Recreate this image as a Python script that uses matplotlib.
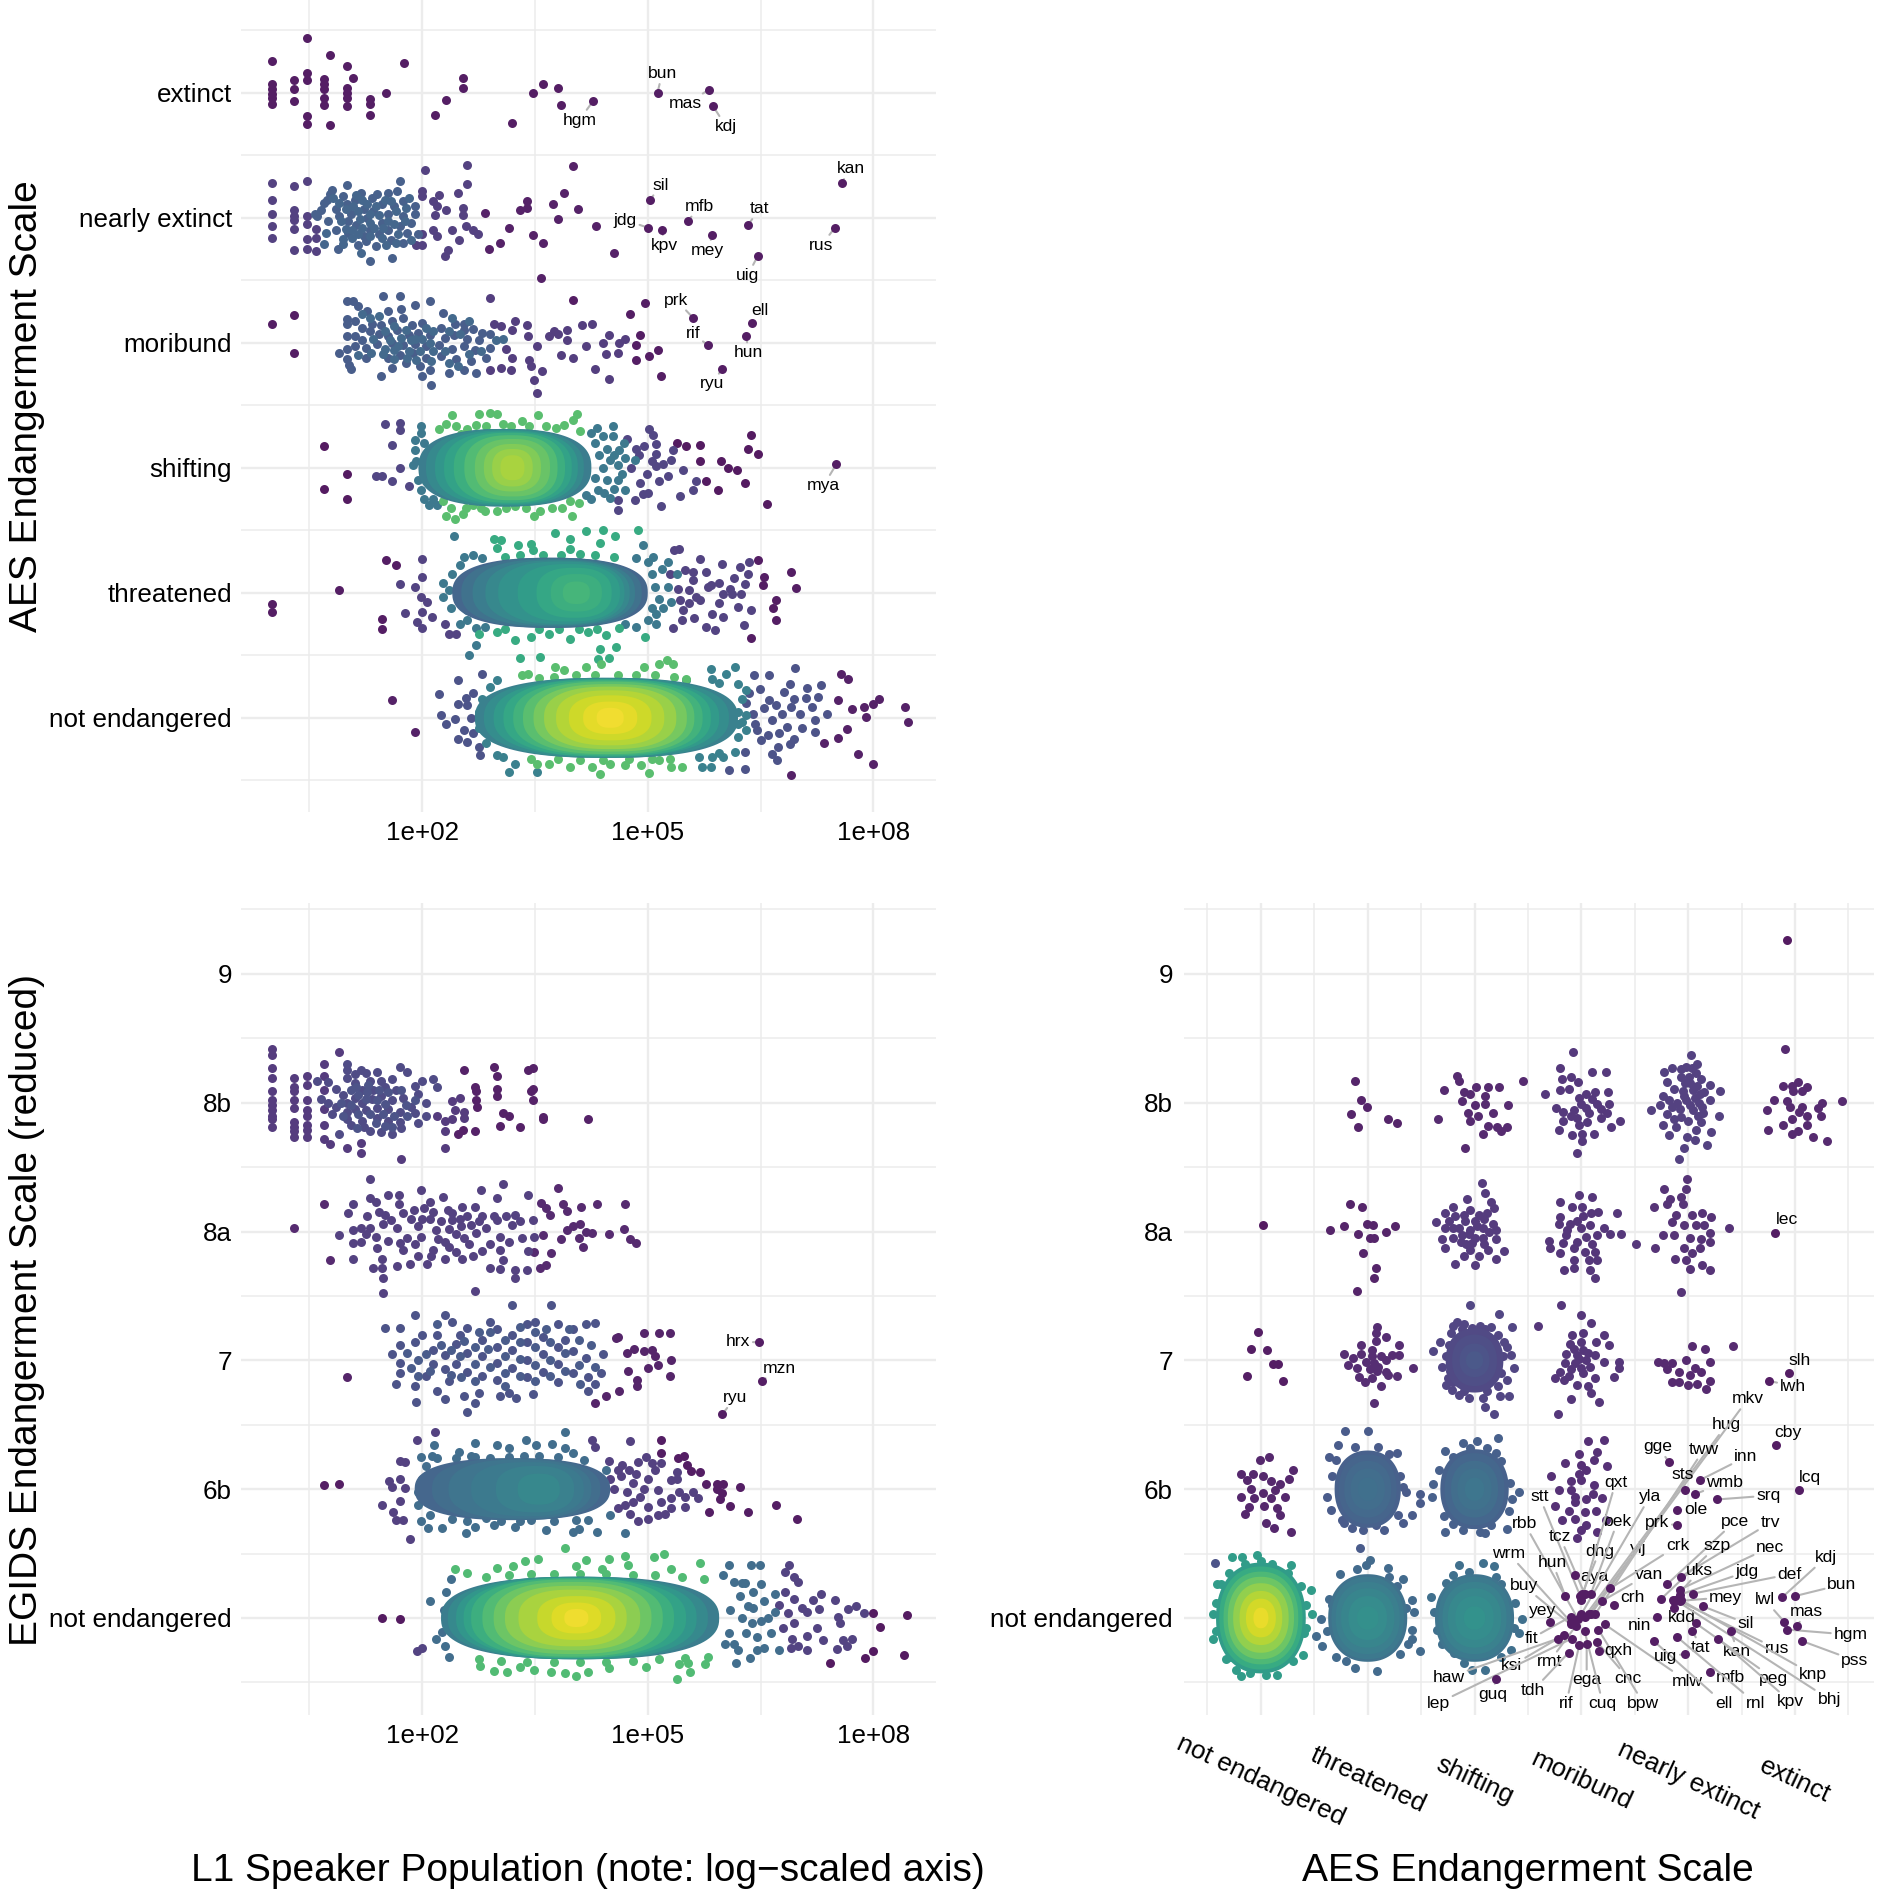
import numpy as np
import matplotlib
matplotlib.use("Agg")
import matplotlib.pyplot as plt
from matplotlib.patches import Polygon

plt.rcParams["font.family"] = ["Liberation Sans", "DejaVu Sans"]

AES = ["not endangered", "threatened", "shifting", "moribund", "nearly extinct", "extinct"]
EGIDS = ["not endangered", "6b", "7", "8a", "8b", "9"]
POP_TICKS = [2, 5, 8]
POP_LABELS = ["1e+02", "1e+05", "1e+08"]

# points are flat lists: log10 population (or column offset), row offset
# rings are hand read density contours of the clouds: level, centre, half width, half height

# ---- AES by population
ext_dark = [.47,.44, .77,.30, 0,.25, 1,.21, 1.76,.24, .47,.16, .3,.10, .47,.10, .69,.11, .69,.07, 1.08,.12, 2.54,.12, 0,.07, 0,.03, 0,-.01, 0,-.04, 0,-.09, .3,.03, .69,.03, 1,.04, 1,0, 1,-.04, .69,-.04, 1.3,-.05, 1.31,-.09, 1.52,0, .3,-.07, .69,-.10, 1,-.11, 1.3,-.18, .47,-.19, .47,-.25, .77,-.26, 2.54,.04, 2.32,-.06, 2.17,-.18, 3.2,-.24, 3.48,0, 3.6,.07, 3.81,.04, 3.84,-.10]
near_dark = [4.55,-.28, 4.31,-.07, 4,.41, 4.07,.07, 3.89,.20, 3.74,.11, 3.81,-.01, 3.58,-.48, 3.61,-.2, 3.47,-.14, 3.4,.13, 3.39,.08, 3.3,.06, 3.16,-.08, 3.04,-.2, 2.89,-.25, 2.84,.04]
near_mid = [0,.28, 0,.14, 0,.03, 0,-.07, 0,-.16, .3,.25, .3,.06, .3,.01, .3,-.02, .3,-.09, .3,-.26, .47,.29, .47,.01, .47,-.05, .47,-.17, .47,-.25, .59,-.09, .59,-.16, .59,-.27, 2.59,.42, 2.6,.27, 2.48,.2, 2.54,.08, 2.54,.02, 2.39,-.10, 2.58,-.07, 2.68,-.1, 2.74,-.13, 2.49,-.18, 2.34,-.26, 2.3,-.31, 2.23,.18, 2.04,.38, 2,.21, 2,.17, 2.15,.13, 2.2,.09, 2.31,.06, 2.17,.02, 2.15,-.1, 2.2,-.15, 2,-.22, 1.92,-.22, 2,-.13]
near_core = [.8,.22, .73,.14, .65,.06, .6,.01, .85,-.1, 1,.26, 1,.11, 1.05,.03, 1.01,-.03, 1.01,-.12, 1.14,-.22, .88,-.25, 1.18,.2, 1.22,.07, 1.26,0, 1.3,-.1, 1.38,-.23, 1.3,-.35, 1.6,-.32, 1.4,.19, 1.54,.2, 1.7,.29, 1.66,.21, 1.46,.11, 1.62,.09, 1.74,.13, 1.9,.09, 1.54,.03, 1.74,.01, 1.46,-.04, 1.7,-.07, 1.42,-.13, 1.58,-.18, 1.74,-.2, 1.95,-.13, 1.22,-.15, 1.9,.03, 1.54,-.1, .57,.03, .85,.07, .89,.01, .75,-.03, .7,.12, .95,.17, 1.1,.14, 1.12,-.06, 1.33,.16, 1.85,-.04, 1.8,-.12, 1.35,.05, .78,.19, 1.25,-.19]
near_extra = [.82,.16, .9,.12, .98,.07, 1.08,.09, 1.15,.05, 1.12,.18, 1.2,.14, 1.27,.11, 1.3,.03, 1.38,.09, 1.42,.02, 1.5,.14, 1.58,.13, 1.65,.05, 1.78,.08, 1.83,.16, .92,-.03, .98,-.09, 1.07,-.1, 1.17,-.01, 1.2,-.08, 1.3,-.04, 1.36,-.08, 1.48,-.08, 1.55,-.03, 1.62,-.05, 1.68,-.13, 1.77,-.03, .95,-.17, 1.07,-.16, 1.15,-.13, 1.3,-.15, 1.46,-.16, 1.52,-.22, 1.65,-.2, 1.85,-.18, .72,-.12, .7,-.21, .95,-.21, 1.18,-.28]
mori_dark = [4.96,.32, 4.76,.23, 4,.34, 0,.15, .3,.22, .3,-.08, 5.18,-.27, 5.13,-.06, 5.02,-.11, 4.9,.06, 4.84,-.02, 4.84,-.14]
mori_mid = [4.7,.03, 4.62,0, 4.48,.06, 4.4,0, 4.48,-.29, 4.3,-.21, 4.44,-.09, 4.6,-.08, 4.26,.15, 4.12,.14, 4.18,-.03, 4,-.12, 3.84,-.1, 3.93,.02, 3.93,.1, 3.81,.07, 3.69,.05, 3.75,.09, 3.53,-.4, 3.49,-.3, 3.59,-.23, 3.45,-.19, 3.42,-.14, 3.53,-.03, 3.41,.05, 3.39,.14, 3.24,.17, 2.9,.36, 3.2,.1, 3.12,-.05, 3.2,-.12, 3.05,.13, 3.05,-.2, 3.18,-.22, 2.9,-.22, 2.95,.15]
mori_core = [1,.33, 1.08,.33, 1.15,.29, 1.27,.25, 1.48,.37, 1.7,.37, 1.55,.25, 1.72,.27, 1.9,.3, 2.1,.33, 2.55,.15, 2.27,.24, 1,.19, 1,.15, 1.1,.17, 1.2,.12, 1.33,.15, 1.45,.14, 1.6,.17, 1.75,.2, 1.87,.14, 2,.16, 2.25,.12, 2.43,.15, 2.55,.1, 2.68,.11, 2.8,.08, 1,.05, 1.1,.05, 1.2,.02, 1.3,.09, 1.42,.07, 1.55,.05, 1.67,.1, 1.82,.06, 1.95,.08, 2.1,.06, 2.3,.04, 2.42,.06, 2.6,.03, 2.75,.02, 2.9,.07, .9,-.08, 1,-.05, 1.1,-.03, 1.25,-.04, 1.4,-.01, 1.6,0, 1.75,-.02, 1.9,-.01, 2.05,-.03, 2.22,-.02, 2.4,-.05, 2.55,-.03, 2.7,-.06, 2.9,-.04, 1,-.13, 1.02,-.18, 1.05,-.21, 1.25,-.12, 1.55,-.12, 1.7,-.1, 1.88,-.08, 2.05,-.12, 2.25,-.11, 2.45,-.13, 2.65,-.15, 2.85,-.12, 1.45,-.27, 1.6,-.2, 1.78,-.16, 1.97,-.19, 2.1,-.22, 2.35,-.24, 2.55,-.22, 2,-.27, 2.12,-.34, 2.72,-.24]
mori_extra = [1.3,.2, 1.42,.21, 1.5,.09, 1.63,.13, 1.78,.1, 1.9,.03, 1.5,-.05, 1.62,-.06, 1.72,.04, 1.82,-.07, 1.97,-.07, 1.57,.02, 1.68,-.03, 1.85,.02, 2,.03, 2.1,.0, 2.15,.09, 2.35,.09, 2.5,.07, 2.3,-.07, 2.15,-.07, 1.35,.03, 1.15,-.1, 1.32,-.08, 1.48,-.09, 1.62,-.13, 1.8,-.12, 1.92,-.14, 2.12,-.15, 2.35,-.16, 2.48,-.19, 2.62,-.09, 2.78,-.07, 2.98,.02, 3.08,.03, 1.2,.23, 2.05,.12, 2.62,.17, 2.4,.2]
shift_dark = [.69,.17, .69,-.17, 1,-.05, 1,-.25, 6.37,.26, 6.33,.15, 6.47,.11, 6.19,-.02, 6.29,-.12, 6.59,-.29, 5.93,-.18, 6.07,0, 5.98,.05, 5.78,-.11, 5.7,.05, 5.7,.18, 5.51,.17, 5.39,.2]
shift_blue = [1.38,-.07, 1.46,-.07, 1.5,.35, 1.7,.36, 1.7,.3, 1.6,.18, 1.6,-.11, 1.7,0, 1.82,-.15, 5.64,-.11, 5.6,-.18, 5.43,-.23, 5.17,-.31, 5.47,-.02, 5.31,.06, 5.34,.14, 5.07,.26, 5.11,.19, 5.11,.11, 4.95,.17, 5.11,.01, 4.99,-.05, 5.15,-.11, 4.93,-.21, 5.27,-.07, 4.83,-.26, 4.6,-.26, 4.6,-.34, 4.78,0, 4.72,.23, 5.02,.31, 4.88,.1, 4.9,-.12, 5,-.2, 5.2,.03, 5.05,.05, 4.85,.15]
shift_teal = [4.54,.33, 4.33,.32, 4.46,.15, 4.62,.14, 4.5,.06, 4.66,-.05, 4.46,-.1, 4.7,-.18, 4.34,-.18, 4.18,-.22, 4.54,.25, 4.83,.06, 1.99,.33, 1.91,.22, 1.91,.14, 2.03,-.07, 1.99,-.18, 2.09,-.3, 2.15,-.25, 1.92,.05, 1.88,.02, 4.6,.02, 4.7,.08, 4.55,-.17, 4.3,.2, 4.35,.1, 4.4,.0, 4.3,-.08, 4.42,-.2, 4.25,.28, 4.25,-.25, 4.55,.1, 4.6,-.1, 4.5,-.24, 4.68,.2, 4.4,.25, 1.98,.28, 2.02,.2, 1.95,-.1, 2.02,-.25, 2.2,-.3]
shift_green = [2.39,.42, 2.76,.43, 2.9,.44, 3,.43, 3.33,.37, 3.54,.42, 4.06,.43, 4.01,.38, 2.31,.35, 2.6,.31, 3.08,.35, 3.65,.33, 2.51,.27, 4.1,.29, 2.31,-.39, 2.43,-.41, 2.54,-.37, 2.84,-.35, 3,-.35, 3.49,-.39, 3.57,-.35, 3.99,-.39, 2.27,-.27, 2.68,-.3, 3.24,-.31, 3.97,-.27, 2.45,.33, 2.72,.34, 2.85,.33, 3.18,.33, 3.42,.33, 3.78,.32, 3.88,.34, 2.22,.31, 2.38,-.32, 2.58,-.32, 2.78,-.32, 3.12,-.32, 3.38,-.32, 3.72,-.32, 3.86,-.32, 4.08,-.28]
shift_rings = [[.40, .46, .52, .58, .64, .70, .75, .80, .84, .87], [3.1, 3.1, 3.12, 3.14, 3.16, 3.18, 3.2, 3.2, 3.2, 3.2], [1.15, 1.05, .95, .85, .74, .62, .5, .38, .27, .16], [.31, .31, .3, .29, .28, .26, .23, .19, .15, .1]]
thr_dark = [0,-.09, 0,-.15, .9,.02, 1.52,.26, 1.65,.22, 1.46,-.21, 1.46,-.29, 6.97,.04, 6.91,.17, 6.7,-.06, 6.67,-.12, 6.7,-.22, 6.37,-.36, 6.54,.13, 6.53,.06, 6.46,.26]
thr_blue = [2,.27, 2,.13, 1.7,.07, 1.91,.05, 1.99,-.03, 2.07,-.07, 2,-.15, 1.77,-.16, 1.93,-.23, 2,-.28, 2.13,-.19, 2.3,-.25, 2.35,-.33, 2.45,-.33, 6.34,.25, 6.23,.21, 5.99,.23, 5.69,.27, 6.33,.15, 6.29,.07, 6.24,-.01, 6.12,-.01, 6,-.01, 6.37,-.14, 6.2,-.11, 6,-.19, 6.28,-.26, 5.9,-.3, 5.77,-.27, 5.86,-.17, 5.8,.05, 5.84,.06, 5.6,.1, 5.64,-.03, 5.43,-.06, 5.47,-.14, 5.33,-.28, 5.42,.35, 5.35,.34, 5.55,.02, 5.7,-.06, 5.95,.08, 6.1,.03, 5.5,.18, 5.62,-.2, 5.4,.03, 5.55,-.08, 5.3,.15, 5.6,.17, 5.45,-.22, 5.78,.17, 5.95,-.08, 6.15,.12]
thr_teal = [2.62,-.5, 2.72,-.42, 2.42,.45, 2.27,.08, 2.27,-.03, 2.55,.29, 2.68,.3, 5.27,.25, 5.07,.29, 4.93,.38, 5.19,.19, 5.39,.15, 5.27,.05, 5.31,-.07, 5.11,-.17, 5.11,-.25, 4.7,-.25, 2.6,-.22, 2.6,-.14, 2.84,-.27, 5.05,.15, 5.1,.05, 5.15,-.05, 5.05,-.12, 5.2,-.12, 5.0,.25, 5.0,-.22, 2.4,.15, 2.35,.02, 2.38,-.12, 2.5,.22, 2.5,-.25, 2.72,-.28, 2.8,.28, 4.85,.28, 4.85,-.27]
thr_green = [2.96,.43, 3.05,.42, 3,.36, 3.27,.38, 3.45,.39, 3.77,.48, 4.18,.49, 4.4,.5, 4.56,.45, 4.36,.4, 4.87,.5, 3.97,.43, 3.97,.35, 3.47,.34, 2.76,-.33, 3,-.31, 3.24,-.38, 3.45,-.35, 3.69,-.33, 3.96,-.37, 4.2,-.31, 4.44,-.34, 4.96,-.35, 4.36,-.45, 4.58,-.43, 4.48,-.52, 4.34,-.53, 3.57,-.51, 3.3,-.52, 3.1,.29, 3.3,.3, 3.6,.3, 3.85,.3, 4.1,.31, 4.3,.3, 4.55,.29, 3.1,-.29, 3.55,-.29, 3.82,-.29, 4.08,-.29, 4.32,-.29, 4.62,-.28]
thr_rings = [[.3, .35, .4, .45, .5, .55, .6, .64, .67], [3.7, 3.72, 3.75, 3.8, 3.85, 3.95, 4.02, 4.05, 4.05], [1.3, 1.2, 1.08, .96, .84, .68, .5, .34, .18], [.28, .28, .27, .26, .25, .23, .2, .15, .09]]
aes_ne_dark = [1.6,.14, 1.9,-.11, 8.42,.09, 8.46,-.03, 8.08,.15, 8,.11, 8,-.37, 7.79,-.29, 6.91,-.46, 7.88,.09, 7.9,.01, 7.72,.07, 7.53,.14, 7.66,.31, 7.57,.35, 7.65,-.09, 7.53,-.16, 7.34,-.2]
aes_ne_blue = [6.96,.4, 7.3,.26, 7.12,.24, 6.89,.27, 6.81,.21, 7.26,.17, 7.18,.09, 7.38,.03, 7.22,-.02, 7.02,.03, 7.22,-.11, 6.89,-.21, 6.73,-.23, 6.65,-.29, 6.72,-.34, 6.85,-.07, 6.65,-.02, 6.61,.14, 6.41,.34, 6.61,.34, 6.49,.23, 6.45,-.1, 6.29,-.27, 6.29,-.41, 6.08,-.42, 2.23,.19, 2.25,.02, 2.31,-.05, 2.43,-.01, 2.47,.3, 2.58,.16, 2.47,.11, 2.6,.1, 2.47,-.17, 2.6,-.19, 2.8,.35, 2.77,-.3, 2.76,-.23, 2.55,-.1, 6.55,.08, 6.7,.1, 6.4,.03, 6.5,-.18, 6.3,.12, 6.75,-.12, 6.95,.15, 6.78,.03, 6.9,.09, 7.05,-.08, 6.6,-.14, 6.42,-.05, 6.35,.2, 6.95,-.17, 7.1,.16, 2.65,.0, 2.68,.2, 2.68,-.12]
aes_ne_teal = [6.16,.41, 5.84,.39, 6.04,.35, 5.51,.3, 6.2,.27, 5.84,-.39, 5.72,-.39, 6,-.31, 6.16,-.27, 5.68,-.31, 3.15,-.43, 3.53,-.43, 3.24,-.37, 3.08,-.31, 6.25,.15, 6.3,-.1, 6.2,-.15, 6.2,.05, 6.3,.02, 6.25,-.03, 6.3,.22, 5.95,.28, 5.85,.31, 6.2,-.05, 5.95,-.28, 5.85,-.31, 2.9,.25, 2.8,.15, 2.75,.05, 2.75,-.08, 2.85,-.2, 3,.3, 3,-.3]
aes_ne_green = [3.33,.34, 3.41,.35, 3.77,.41, 3.89,.38, 4.18,.41, 4.38,.43, 4.95,.41, 5.15,.43, 5.25,.46, 5.34,.43, 5.51,.31, 4.26,-.39, 4.36,-.45, 4.5,-.37, 4.7,-.38, 4.91,-.38, 5.01,-.44, 5.15,-.34, 5.31,-.39, 5.45,-.39, 3.96,-.39, 3.69,-.37, 3.53,-.37, 3.55,.32, 3.75,.33, 4.05,.34, 4.3,.34, 4.6,.34, 4.85,.34, 5.1,.34, 5.35,.33, 3.45,-.33, 3.8,-.33, 4.1,-.34, 4.4,-.34, 4.75,-.33, 5.05,-.33, 5.3,-.33]
aes_ne_rings = [[.42, .48, .54, .6, .66, .72, .78, .84, .89, .93, .97, .995], [4.45, 4.45, 4.45, 4.46, 4.47, 4.48, 4.5, 4.5, 4.5, 4.5, 4.5, 4.5], [1.75, 1.63, 1.5, 1.38, 1.26, 1.14, 1.02, .88, .72, .55, .36, .18], [.32, .32, .31, .31, .3, .29, .27, .25, .22, .18, .13, .08]]

# ---- EGIDS by population
b8_dark = [4.2,-.13, 3.6,-.11, 3.47,.02, 3.47,.11, 3.47,.27, 3.41,.25, 3.45,.09, 2.96,.28, 3,.21, 3,.11, 3,.05, 2.56,.25, 2.7,.12, 2.72,.09, 2.72,.02, 2.73,-.03, 3.08,-.08, 3.16,-.1, 3.04,-.18, 3.3,-.19, 2.7,-.22, 2.54,-.21, 2.47,-.24, 3.6,-.13]
b8_mid = [0,.42, 0,.37, 0,.27, 0,.19, 0,.09, 0,.02, 0,-.02, 0,-.06, 0,-.1, 0,-.13, 0,-.19, .3,.19, .3,.12, .3,.09, .3,.02, .3,-.04, .3,-.15, .3,-.19, .3,-.22, .3,-.27, .47,.21, .47,.14, .47,.02, .47,-.06, .47,-.1, .47,-.17, .47,-.21, .47,-.27, .69,.3, .9,.39, .69,.21, .69,.1, .69,-.05, .69,-.17, .69,-.28, .77,-.32, 1,-.35, 1.18,-.31, 1.18,-.39, 1.72,-.44, 2.3,-.35, 2.3,-.22, 2.4,-.13, 2.3,-.14, 2.43,-.06, 2.55,-.12, 2.55,-.07, 2.5,.04, 2.4,.01, 2.2,-.1]
b8_core = [1,.3, 1,.25, 1.1,.22, 1.18,.25, 1.25,.23, 1.4,.24, 1.7,.28, 1.8,.24, .6,.17, .75,.16, .85,.11, .95,.06, 1,.19, 1.1,.15, 1.3,.17, 1.45,.17, 1.6,.18, 1.5,.12, 1.35,.1, 1.2,.1, 1.65,.1, 1.9,.13, 2,.17, 2.15,.18, 2.2,.12, 1.95,.07, .65,.03, .75,.0, .85,-.03, 1,0, 1.1,.04, 1.2,.0, 1.33,.03, 1.45,.05, 1.6,.02, 1.75,.04, 1.85,-.03, 2.05,.0, 1,-.07, 1.1,-.05, 1.25,-.06, 1.4,-.04, 1.55,-.05, 1.7,-.07, 1.9,-.08, 2.05,-.1, .8,-.09, 1,-.13, 1.05,-.17, 1.2,-.14, 1.4,-.12, 1.55,-.14, 1.7,-.15, 1.95,-.16, 1.3,-.22, 1.45,-.23, 1.6,-.24, 1.72,-.2, 1.22,-.19, .9,-.24]
b8_extra = [1.05,.1, 1.15,.06, 1.27,.08, 1.42,.1, 1.55,.08, 1.72,.1, 1.28,.14, 1.4,.02, 1.5,-.01, 1.25,.03, 1.05,-.02, 1.15,-.09, 1.3,-.09, 1.48,-.09, 1.62,-.1, 1.78,-.02, 1.9,.02, .92,.0, .95,-.1, 1.12,.12, 1.38,-.16, 1.6,-.19, 1.8,-.1, 1.13,-.2, 1.5,-.18]
a8_dark = [.3,.03, .69,.21, .77,-.22, 3.58,.22, 3.65,.18, 3.7,.13, 3.61,-.03, 3.49,-.16, 3.71,-.17, 3.57,-.28, 3.65,-.26, 3.81,.34, 3.87,.21, 3.93,.16, 4.11,.19, 4.32,.21, 4.7,.21, 3.92,.01, 4.01,.04, 4.1,.06, 4.18,0, 4.26,-.01, 4.48,-.02, 4.68,.02, 4.76,-.06, 4.84,-.09, 3.84,-.06, 4.08,-.05, 4.14,-.12]
a8_core = [.9,-.03, 1.3,.41, 1.08,.21, 1.01,.14, 1.08,.01, 1.08,-.09, 1.08,-.21, 1.18,.03, 1.18,-.08, 1.26,.12, 1.3,.26, 1.38,.23, 1.42,.15, 1.38,-.04, 1.4,-.13, 1.31,.03, 1.34,-.28, 1.46,-.28, 1.48,-.36, 1.48,-.48, 1.54,.28, 1.69,.28, 1.69,.21, 1.58,.09, 1.66,.03, 1.7,-.09, 1.74,-.14, 1.46,-.21, 1.66,-.27, 1.84,-.25, 1.89,.17, 1.95,.04, 1.99,-.04, 1.99,.32, 2.03,.18, 2.11,.23, 2.27,.27, 2.34,.17, 2.19,.01, 2.21,-.06, 1.95,-.19, 2.12,-.19, 2.07,-.25, 2.3,-.21, 2.35,-.12, 2.39,.09, 2.53,.19, 2.51,.04, 2.55,-.05, 2.53,-.21, 2.68,-.19, 2.7,.19, 2.78,.32, 2.8,.12, 2.72,-.01, 2.9,-.1, 3,.26, 3,.09, 3.04,-.04, 3.04,-.14, 3.08,.37, 2.9,-.28, 3.03,-.29, 2.7,-.46, 3.24,.13, 3.33,-.05, 3.2,.05, 3.23,-.36, 3.23,-.3, 3.39,-.3, 3.41,.28, 3.08,-.22, 3.41,-.15, 3.47,.09, 3.49,-.04, 2.25,.08, 2.45,-.02, 2.6,.12, 2.85,.03, 1.85,.1, 1.8,-.05, 1.55,-.07, 2.1,.1, 2.3,-.08, 1.5,.13, 1.75,.14, 2,.1, 2.15,.15, 2.4,.14, 2.62,-.1, 2.5,.1, 2.35,.02, 2.75,.08, 2.95,.12, 3.12,.12, 3.15,-.08, 3.3,.08, 2.65,.05, 1.25,-.02, 1.48,.06, 1.9,-.1, 2.15,-.14, 2.45,-.16, 2.8,-.15]
r7_dark = [1,-.13, 4.95,.21, 4.6,.18, 5.3,.21, 5.15,.21, 5.31,.0, 5.13,-.04, 5.3,-.12, 5,-.06, 4.86,-.15, 4.86,-.2, 4.62,-.24, 4.45,-.28, 4.3,-.33, 4.82,.09, 4.95,.07, 5.05,.08, 4.72,.06, 4.58,.17, 4.74,-.08, 5.1,.03]
r7_core = [1.9,.35, 2.3,.35, 3.2,.43, 3.71,.43, 1.5,.25, 1.7,.25, 2.4,.3, 2.6,.25, 2,.2, 2.2,.2, 1.7,.12, 1.6,.05, 1.9,.14, 1.7,-.02, 1.7,-.1, 1.65,-.18, 1.9,-.2, 1.92,-.32, 2.05,-.12, 2.2,-.24, 2.3,-.3, 2.35,-.16, 2.6,-.4, 2.7,-.33, 2.55,-.28, 2.75,-.25, 3.03,-.28, 3.15,-.25, 3.25,-.29, 3.47,-.26, 2.15,.08, 2.3,.04, 2.15,-.03, 2.3,-.07, 2.45,.13, 2.45,-.03, 2.6,.06, 2.6,-.09, 2.8,.16, 2.8,.03, 2.8,-.12, 3,.24, 3,.1, 3,-.02, 3,-.15, 3.2,.2, 3.2,.08, 3.2,-.06, 3.4,.28, 3.4,.14, 3.4,0, 3.4,-.13, 3.6,.18, 3.6,.05, 3.6,-.09, 3.8,.28, 3.8,.1, 3.8,-.03, 3.8,-.17, 4,.24, 4,.07, 4,-.1, 4.18,.28, 4.18,.02, 4.3,.29, 4.2,-.13, 4.2,-.24, 4.4,.05, 4.38,-.1, 4.3,-.18, 2.5,.2, 2.9,.3, 3.5,.3, 3.9,.16]
r7_extra = [1.8,.06, 1.85,-.06, 1.95,.0, 2.05,.05, 2.1,-.08, 1.95,-.12, 2.25,.12, 2.38,.08, 2.38,-.11, 2.5,.03, 2.52,-.13, 2.55,.15, 2.7,.1, 2.7,-.03, 2.7,-.16, 2.88,.09, 2.9,-.05, 2.9,.22, 3.1,.16, 3.1,.03, 3.1,-.1, 3.1,-.2, 3.3,.14, 3.3,.01, 3.3,-.12, 3.3,.26, 3.5,.1, 3.5,-.04, 3.5,-.16, 3.5,.22, 3.7,.14, 3.7,0, 3.7,-.12, 3.9,.06, 3.9,-.08, 3.95,.24, 4.08,.16, 4.08,-.04, 4.1,-.18, 4.25,.12, 4.3,-.05, 2.2,.28, 2.75,.22, 3.65,.24]
b6_dark = [.69,.03, .9,.04, 6.98,-.23, 6.7,-.12, 6.33,-.18, 6.22,.02, 6.1,-.13, 5.82,-.18, 5.96,-.08, 6,.04, 5.92,.04, 5.92,0, 5.99,-.03, 5.78,.04, 5.7,.13, 5.57,.14, 5.52,.19, 5.48,.26, 5.4,.24, 5.18,.38, 5.18,.28]
b6_blue = [4.77,.37, 4.26,.38, 4.3,.33, 4.97,.25, 4.87,.21, 5.05,.2, 5.39,.13, 5.31,.07, 5.39,.08, 5.1,.15, 5.18,.2, 4.85,.12, 5,.08, 5.41,-.02, 5.49,-.06, 5.49,-.14, 5.67,-.07, 5.6,-.02, 5.31,-.07, 5.31,-.15, 5.23,-.19, 5.13,-.2, 5,-.14, 5,-.23, 4.87,-.25, 4.77,-.19, 5.18,-.1, 4.9,-.06, 4.72,-.02, 4.49,.22, 4.66,.19, 5.13,-.01, 1.47,-.12, 1.56,.06, 1.7,.22, 1.77,.21, 1.93,.38, 2.17,.44, 1.61,-.18, 1.65,-.24, 1.75,-.24, 1.84,-.39, 1.7,-.09, 1.7,.08, 1.6,.02, 1.77,.01, 4.8,.05, 4.95,.0, 4.65,.1, 4.7,-.12, 4.6,.15, 4.55,.0, 4.6,-.15, 4.8,-.1, 4.75,.15, 4.5,.08]
b6_teal = [3.9,.44, 2.7,.36, 2.16,.34, 3.38,.38, 1.98,-.25, 2.08,-.3, 2.26,-.3, 2.58,-.34, 2.7,-.29, 2.95,-.28, 3.23,-.29, 3.64,-.32, 4,-.33, 4.32,-.33, 4.7,-.34, 4.08,-.31, 3.52,.34, 3.72,.35, 3.9,.32, 4,.28, 3.16,.32, 3,.34, 2.49,.29, 2.65,.26, 1.98,.25, 2.13,.26, 2.9,.24, 3.35,.26, 2.4,-.23, 2.85,-.22, 3.45,-.24, 4.2,-.24, 4.45,.15, 4.5,-.2, 2.05,.18, 1.95,-.12, 2.2,.24, 2.45,.24, 2.7,.25, 3.15,.25, 3.55,.26, 3.8,.25, 4.15,.23, 2.6,-.25, 3.05,-.25, 3.3,-.25, 3.75,-.25, 4.05,-.24, 2,.08, 1.95,-.02, 2.1,-.2]
b6_rings = [[.3, .33, .36, .39, .42, .45], [3.2, 3.25, 3.3, 3.4, 3.5, 3.55], [1.3, 1.12, .95, .75, .52, .28], [.24, .24, .23, .21, .18, .12]]
eg_ne_dark = [1.47,0, 1.7,-.01, 8.45,.02, 8.41,-.29, 8.09,-.07, 7.99,-.26, 7.89,-.31, 7.42,-.35, 7.99,.04]
eg_ne_blue = [1.93,-.26, 2,-.23, 7.66,.07, 7.77,.09, 7.87,.04, 7.53,.01, 7.56,-.04, 7.71,-.16, 7.59,-.17, 7.65,-.22, 7.52,-.24, 7.49,.14, 7.31,.19, 7.28,.07, 7.2,.14, 7.12,.05, 7.25,-.08, 7.12,-.14, 7.33,-.17, 7.12,-.25, 7,-.22, 6.9,-.23, 6.88,.41, 6.83,.36, 7,.28, 6.95,.32, 6.95,.15, 6.87,.04, 6.95,-.04, 6.92,-.16, 6.75,.1, 6.8,-.08, 7.05,.08, 6.82,.2]
eg_ne_teal = [6.49,.41, 6.37,.41, 6.29,.27, 6.51,.26, 6.69,.19, 6.54,.13, 6.69,.05, 6.51,-.02, 6.64,-.12, 6.38,-.04, 6.33,.09, 6.74,-.25, 6.55,-.23, 6.36,-.31, 6.18,-.35, 6.2,-.25, 6.08,.41, 6,.33, 6.23,.17, 6.1,.06, 6.08,-.12, 6.03,-.2, 2.11,.13, 2.18,-.16, 2.26,-.11, 2.36,-.3, 2.29,.06, 6.25,.27, 6.4,.2, 6.15,-.2, 6.45,-.15, 6.6,.0, 6.15,.28, 6.25,.0, 6.4,.08, 6.3,-.12, 6.45,-.25, 2.3,-.22, 2.32,.2, 2.38,.3, 2.42,-.08, 2.45,.12]
eg_ne_green = [3.54,.46, 3.37,.44, 3.9,.54, 4.18,.45, 4.48,.46, 4.7,.48, 5.08,.47, 5.22,.5, 5.7,.43, 5.31,.38, 3.21,.4, 3,.39, 2.44,.38, 2.6,.35, 2.77,-.37, 2.95,-.41, 3.13,-.42, 3.3,-.38, 3.49,-.4, 3.71,-.42, 3.9,-.43, 4.05,-.45, 4.21,-.42, 4.48,-.39, 4.97,-.38, 5.41,-.36, 5.54,-.35, 5.39,-.47, 5.56,-.42, 5.76,-.36, 4.05,.4, 4.39,.38, 4.74,.41, 2.85,.32, 3.15,.33, 3.45,.34, 3.75,.34, 4.1,.34, 4.45,.34, 4.8,.33, 5.1,.33, 5.45,.32, 5.75,.3, 2.75,-.32, 3.05,-.33, 3.4,-.34, 3.75,-.34, 4.1,-.34, 4.45,-.34, 4.8,-.33, 5.15,-.32, 5.5,-.31, 5.8,-.3]
eg_ne_rings = [[.40, .46, .52, .58, .64, .70, .76, .82, .87, .92, .96, .99], [4.1, 4.07, 4.05, 4.03, 4, 4, 4, 4, 4, 4.05, 4.05, 4.05], [1.85, 1.73, 1.6, 1.48, 1.35, 1.2, 1.05, .9, .72, .52, .33, .16], [.32, .32, .32, .31, .31, .3, .28, .25, .22, .17, .12, .07]]

# ---- EGIDS by AES cells: offsets from the crossing of column and row
c2r5 = [-.12,.17, -.06,.02, -.01,-.03, -.16,-.09, -.09,-.19, .19,-.13, .27,-.16]
c3r5 = [-.16,.21, -.15,.17, -.29,.1, -.1,.08, -.04,.07, .01,.12, .13,.12, .23,.12, .45,.17, .1,.05, -.12,.01, 0,-.02, .1,-.01, .31,-.02, -.06,-.08, .03,-.1, .17,-.08, -.34,-.13, -.04,-.14, .13,-.18, .21,-.19, .3,-.19, .25,-.22, .08,-.24, -.09,-.35]
c4r5 = [-.08,.39, -.2,.27, .1,.24, .23,.24, -.1,.2, -.18,.18, -.03,.16, -.12,.11, -.2,.1, -.34,.07, .13,.08, .25,.08, .04,.07, 0,-.01, .15,-.01, .26,-.01, -.24,-.04, -.17,-.07, -.07,-.06, .07,-.08, .24,-.08, -.04,-.12, -.17,-.14, .36,-.14, .28,-.19, -.21,-.21, -.09,-.25, .01,-.24, .12,-.24, .01,-.3, -.04,-.39, .04,-.04, -.02,.04, .1,.03, .18,-.05, -.1,-.1, -.02,-.17, .05,-.15, .18,-.12]
c5r5 = [.03,.37, -.02,.28, -.23,.24, -.15,.27, .08,.3, -.07,.2, .07,.23, -.2,.16, -.13,.11, .02,.15, .2,.14, .3,.09, -.24,.05, -.04,.05, .11,.07, .2,.02, -.26,-.02, -.35,-.06, -.15,-.03, .02,-.02, .13,-.03, -.2,-.09, -.07,-.11, .09,-.1, .29,-.1, -.24,-.17, -.11,-.19, .07,-.21, .21,-.23, -.18,-.25, -.01,-.27, .06,-.29, .18,-.33, -.04,-.35, -.09,-.44, .05,.1, -.03,.15, .1,.0, -.1,.0, .12,.18, .06,.04, -.02,.02, -.08,-.05, .05,-.06, .14,-.08, .0,-.14, .12,-.15, -.05,.09, .08,.13, .01,.2, -.07,.26, .04,.27, .15,.08, -.18,.02, -.13,-.13]
c6r5 = [-.09,.42, -.11,.13, -.03,.13, .03,.16, .11,.12, -.02,.09, .07,.09, -.2,.02, -.07,.01, .44,.01, .25,0, -.26,-.06, -.05,-.03, .07,-.03, .22,-.04, .04,-.07, .11,-.1, .24,-.1, -.03,-.13, -.11,-.17, .11,-.17, -.25,-.21, .03,-.22, -.03,-.24, .17,-.27, .3,-.3]
c1r4 = [.02,.05]
c2r4 = [-.17,.21, -.05,.19, -.22,.04, -.35,.01, -.01,.06, .05,.05, .26,.04, .17,0, -.09,-.02, .02,-.05, .06,-.05, -.04,-.17, .08,-.28, .06,-.36, -.1,-.46]
c3r4 = [.07,.38, .1,.3, -.07,.25, -.2,.19, .15,.23, .18,.18, -.28,.14, -.04,.17, -.36,.07, -.24,.08, -.09,.08, .09,.1, .17,.06, -.28,.03, -.04,.01, .2,.01, -.3,-.06, -.13,-.08, 0,-.05, .2,-.06, -.28,-.13, -.04,-.14, .09,-.1, .28,-.15, .04,-.19, .2,-.21, -.18,-.25, 0,-.26, -.12,-.03, 0,.08, .08,.03, -.15,.03, .08,-.05, -.18,.12, -.1,.13, .04,.13, .12,.14, -.2,.03, -.08,-.1, -.02,-.09, .13,-.14, -.1,-.19, -.2,-.05, .02,.04, -.05,-.02, .14,.0]
c4r4 = [-.02,.28, .1,.27, -.2,.23, -.09,.19, .01,.19, .33,.14, .16,.15, -.2,.11, .02,.12, .09,.14, -.21,.06, -.11,.06, 0,.03, .21,.03, .37,-.02, .27,-.02, .04,-.04, .15,-.03, -.3,-.07, -.17,-.09, -.04,-.08, -.29,-.13, -.2,-.17, -.07,-.13, .13,-.16, .15,-.22, -.07,-.22, .07,-.22, -.16,-.3, -.07,-.28, .08,-.3, .13,-.36, .51,-.1, -.13,.01, -.04,.08, .08,.05, .1,-.1, .03,-.16, -.14,-.03]
c5r4 = [-.01,.41, -.23,.33, -.02,.33, -.17,.25, -.07,.27, -.32,.19, -.05,.21, -.2,.21, -.11,.13, .04,.13, .13,.14, .21,.11, -.15,.07, -.04,.05, .07,.05, .15,.05, .38,.03, -.24,-.03, -.13,-.03, .2,-.01, .02,-.05, .12,-.06, .2,-.08, -.31,-.13, -.04,-.13, .11,-.13, .04,-.17, -.12,-.21, -.02,-.22, .13,-.26, .02,-.29, .2,-.3, -.07,-.47]
c1r3 = [-.03,.22, -.09,.09, .06,.08, .11,-.03, .16,-.03, -.13,-.12, .21,-.16]
c2r3 = [.09,.26, .08,.21, .17,.18, .08,.15, -.06,.12, .04,.08, .29,.12, -.22,.05, -.06,.05, .23,.04, -.14,.02, .04,.03, .17,0, .29,.04, -.18,-.04, -.02,-.01, .06,-.02, -.1,-.06, .02,-.07, .17,-.09, .42,-.06, -.08,-.13, .04,-.14, .27,-.12, -.03,-.17, .12,-.2, .06,-.33, .19,-.11, .09,-.08, .12,.03, .1,-.05]
c3r3 = [-.04,.43, -.39,.07, .35,.26, .23,.36, -.16,.3, -.22,.21, -.32,.14, -.27,.03, -.25,-.14, -.27,-.19, -.21,-.23, -.15,-.27, .1,-.36, .18,-.42, .24,-.28, .32,-.28, .37,-.06, .34,.04, .28,.14, .08,-.29, -.1,.28, .05,.27, .15,.26, .3,.1, .3,-.15, -.3,-.05, -.05,-.29, -.2,.27, -.12,.24, -.02,.25, .1,.24, .22,.2, -.24,.12, .27,.03, .25,-.1, -.23,-.08, .22,-.2, .12,-.24, -.1,-.24, -.2,-.17]
c3r3_rings = [[.18, .2, .22, .24], [3, 3, 3, 3], [.27, .21, .14, .08], [.25, .2, .13, .07]]
c4r3 = [-.41,.27, -.19,.43, 0,.35, .09,.29, -.09,.2, .02,.21, .21,.2, -.11,.13, 0,.14, .14,.14, .26,.12, -.14,.05, -.04,.04, .04,0, .21,-.01, .35,-.01, -.15,-.02, -.06,-.02, .08,-.05, .35,-.06, -.2,-.09, -.1,-.07, 0,-.06, .31,-.13, -.25,-.14, -.16,-.15, -.04,-.19, .13,-.14, .06,-.2, .09,-.25, -.1,-.3, .17,-.32, -.22,-.42, -.02,.01, .02,.08, -.07,.09, .06,.06, .13,.04, .02,-.1, -.12,-.12]
c5r3 = [.04,.11, .16,.09, .42,.11, -.28,-.01, -.23,-.02, -.15,-.02, -.02,0, .2,-.01, -.2,-.07, -.09,-.09, .06,-.06, .12,-.09, .02,-.11, .2,-.16, -.15,-.17, -.09,-.17, 0,-.19, .08,-.18, .17,-.22]
c1r2 = [-.01,.23, .08,.25, .3,.15, -.19,.12, -.07,.12, .02,.1, -.13,.07, .18,.04, .26,.08, .09,.06, -.09,0, .02,-.03, .13,-.01, -.19,-.06, -.06,-.07, .09,-.07, .23,-.06, -.11,-.14, .03,-.13, -.15,-.19, .15,-.15, .18,-.2, .05,-.26, .12,-.3, .28,-.33]
c2r2 = [-.21,.45, 0,.45, -.28,.34, -.36,.25, .27,.28, .1,.33, -.38,-.06, -.34,-.16, -.24,-.24, -.04,-.32, .15,-.32, .36,-.02, .49,-.04, .49,-.11, .41,-.2, .33,-.26, -.07,-.46, .23,-.11, -.3,.23, .22,.15, .3,.1, -.33,.1, .08,-.28, -.15,-.3, .28,-.2, .33,.02, -.12,.33, .2,.27, -.22,-.26]
c2r2_rings = [[.27, .29, .31, .33, .34], [2, 2, 2, 2, 2], [.31, .27, .22, .16, .09], [.3, .27, .22, .16, .09]]
c3r2 = [.22,.4, .02,.37, -.11,.36, -.28,.3, -.39,.04, -.4,-.06, .42,-.02, .35,-.08, .32,-.17, .3,-.31, .1,-.34, -.11,-.32, -.28,-.33, -.29,-.21, -.33,.15, .25,.22, .12,.32, -.2,.25, .15,-.28, -.2,-.27, .33,.05, -.04,.32, .2,.28, .05,-.33]
c3r2_rings = [[.28, .3, .33, .35, .37], [3, 3, 3, 3, 3], [.32, .28, .22, .16, .09], [.31, .28, .22, .16, .09]]
c4r2 = [.21,.38, .06,.37, .15,.29, -.02,.27, .12,.23, -.15,.2, .24,.18, 0,.19, .04,.15, -.28,.1, -.1,.06, 0,.07, .12,.03, -.21,-.01, -.1,-.01, .11,-.04, .19,-.07, -.06,-.1, .04,-.08, -.25,-.13, -.12,-.17, .03,-.18, .14,-.17, -.18,-.24, -.06,-.23, .23,-.24, .04,-.28, 0,-.32, .15,-.33, -.04,-.38, -.02,.12, -.06,-.06]
c1r1 = [-.27,.47, -.18,.47, -.04,.49, .28,.41, .38,.25, .47,.22, .48,.03, -.41,.26, -.45,.03, -.45,-.16, -.33,-.32, -.19,-.45, .15,-.44, .39,-.29, .4,-.12, -.23,-.4, -.37,.26, 0,.44, .1,.42, -.15,.42, .25,.35, -.3,.35, .42,.1, -.42,.12, -.42,-.1, .42,-.08, -.1,-.43, .05,-.44, .3,-.33, -.28,-.3]
c1r1_dark = [-.43,.43]
c1r1_rings = [[.55, .62, .69, .76, .83, .89, .94, .98], [1, 1, 1, 1, 1, 1, 1, 1], [.42, .39, .35, .31, .26, .2, .14, .07], [.43, .4, .36, .32, .27, .21, .15, .08]]
c2r1 = [.02,.45, -.02,.41, .19,.39, -.26,.34, .27,.25, .41,.14, -.44,-.01, -.48,-.14, -.43,-.22, -.3,-.3, -.12,-.39, .09,-.41, .49,-.26, .41,-.09, .41,-.16, .43,.05, -.36,.15, .33,.3, -.1,.38, .3,-.28, -.2,-.33, .38,-.2, .36,.08, -.38,-.1, .2,.32, -.33,.1]
c2r1_rings = [[.35, .38, .41, .44, .47, .49], [2, 2, 2, 2, 2, 2], [.37, .34, .3, .25, .18, .1], [.34, .32, .28, .23, .17, .09]]
c3r1 = [-.15,.41, .08,.43, .18,.4, -.27,.27, .25,.26, -.41,.16, -.35,-.09, .44,-.01, .42,-.12, .34,-.25, .1,-.4, -.02,-.4, -.19,-.27, -.38,.05, .38,.12, -.05,.36, -.3,-.2, .2,.32, -.1,-.35, .25,-.3, -.2,.33, .37,-.08]
c3r1_rings = [[.36, .39, .42, .45, .48, .50], [3, 3, 3, 3, 3, 3], [.37, .34, .3, .25, .18, .1], [.34, .32, .28, .23, .17, .09]]
c6r6 = [-.07,.26]

# names with point and text position
top_labels = ["hgm", "bun", "mas", "kdj", "kan", "sil", "jdg", "kpv", "mfb", "tat", "mey", "rus", "uig", "prk", "ell", "rif", "hun", "ryu", "mya"]
top_px = [4.27, 5.13, 5.81, 5.87, 7.58, 5.03, 5.0, 5.19, 5.53, 6.33, 5.86, 7.49, 6.46, 5.6, 6.38, 5.8, 6.31, 5.99, 7.51]
top_py = [5.93, 6.0, 6.02, 5.89, 5.28, 5.14, 4.92, 4.9, 4.97, 4.94, 4.86, 4.92, 4.69, 4.2, 4.16, 3.98, 4.05, 3.79, 3.03]
top_tx = [4.09, 5.19, 5.5, 6.04, 7.7, 5.17, 4.7, 5.22, 5.69, 6.49, 5.79, 7.31, 6.33, 5.38, 6.49, 5.6, 6.34, 5.85, 7.34]
top_ty = [5.78, 6.15, 5.91, 5.73, 5.39, 5.26, 4.98, 4.78, 5.09, 5.07, 4.74, 4.78, 4.54, 4.34, 4.26, 4.07, 3.92, 3.67, 2.86]
low_labels = ["hrx", "mzn", "ryu"]
low_px = [6.48, 6.52, 5.99]
low_py = [3.14, 2.84, 2.58]
low_tx = [6.2, 6.75, 6.16]
low_ty = [3.145, 2.94, 2.71]
cell_labels = ["stt", "rbb", "tcz", "hun", "wrm", "buy", "yey", "fit", "haw", "ksi", "lep", "guq", "rmt", "tdh", "rif", "ega", "cuq", "cnc", "bpw", "qxh", "mlw", "ell", "aya", "crh", "dhg", "bek", "qxt", "yla", "yij", "van", "crk", "gge", "hug", "mkv", "tww", "sts", "inn", "wmb", "srq", "ole", "prk", "pce", "trv", "szp", "nec", "uks", "jdg", "def", "mey", "kdd", "nin", "sil", "rus", "kan", "tat", "uig", "mfb", "peg", "knp", "bhj", "kpv", "rnl", "kdj", "bun", "lwl", "mas", "hgm", "pss", "lwh", "slh", "cby", "lcq", "lec"]
cell_px = [3.99, 3.97, 4.03, 3.85, 3.9, 3.9, 3.71, 3.9, 3.78, 3.84, 3.91, 3.2, 3.95, 3.88, 3.98, 4.05, 4.03, 4.15, 4.16, 4.17, 4.22, 4.68, 3.94, 4.31, 4.01, 4.09, 4.0, 4.0, 4.09, 4.19, 4.27, 4.82, 4.03, 4.07, 4.13, 4.97, 5.11, 5.06, 5.27, 4.9, 4.9, 4.8, 4.93, 4.75, 4.92, 4.86, 4.92, 5.05, 4.87, 4.87, 4.71, 5.14, 4.92, 5.4, 5.04, 4.97, 5.2, 5.07, 4.93, 4.88, 5.28, 4.9, 5.88, 6.0, 5.9, 6.02, 5.93, 6.07, 5.76, 5.94, 5.82, 6.04, 5.81]
cell_py = [1.17, .99, 1.19, 1.17, .97, .95, .97, 1.01, .84, .87, .84, .53, .94, .73, .79, .8, .9, .81, .91, .74, .95, .82, 1.33, 1.1, 1.19, 1.19, 1.14, 1.03, 1.03, 1.13, 1.23, 2.21, 1.01, 1.03, 1.03, 1.99, 2.07, 1.96, 1.92, 1.84, 1.72, 1.26, 1.32, 1.15, 1.22, 1.14, 1.18, 1.19, 1.13, 1.08, 1.01, 1.09, 1.13, .9, .9, .72, .58, .96, 1.14, 1.14, .84, .85, 1.16, 1.17, .97, .94, .91, .82, 2.84, 2.9, 2.34, 1.99, 3.99]
cell_tx = [3.61, 3.47, 3.8, 3.73, 3.32, 3.46, 3.64, 3.53, 2.76, 3.35, 2.66, 3.17, 3.7, 3.55, 3.86, 4.05, 4.2, 4.44, 4.58, 4.35, 4.99, 5.33, 4.12, 4.48, 4.17, 4.34, 4.32, 4.64, 4.53, 4.63, 4.9, 4.72, 5.36, 5.56, 5.15, 4.95, 5.54, 5.34, 5.75, 5.07, 4.71, 5.44, 5.77, 5.27, 5.77, 5.11, 5.55, 5.95, 5.35, 4.94, 4.54, 5.54, 5.83, 5.46, 5.12, 4.79, 5.4, 5.8, 6.17, 6.32, 5.96, 5.63, 6.29, 6.44, 5.72, 6.11, 6.52, 6.56, 5.98, 6.04, 5.93, 6.14, 5.93]
cell_ty = [1.94, 1.73, 1.63, 1.43, 1.5, 1.25, 1.06, .84, .54, .63, .34, .41, .66, .44, .34, .52, .34, .53, .34, .75, .51, .34, 1.32, 1.16, 1.52, 1.75, 2.05, 1.94, 1.54, 1.34, 1.56, 2.33, 2.5, 2.7, 2.31, 2.11, 2.25, 2.05, 1.95, 1.84, 1.74, 1.75, 1.74, 1.56, 1.55, 1.37, 1.36, 1.34, 1.16, 1.0, .94, .96, .76, .74, .77, .7, .54, .53, .56, .37, .35, .34, 1.47, 1.26, 1.14, 1.05, .87, .67, 2.8, 3.0, 2.44, 2.09, 4.09]

W, H = 1879, 1900
fig = plt.figure(figsize=(W / 100, H / 100), dpi=100, facecolor="white")
GRID = "#ececec"
MS = 42


def shade(level):
    c = np.array(plt.cm.viridis(level)[:3])
    return tuple(c * .87 + np.array([.09, .08, .07]))


def box(left, top, right, bottom):
    return fig.add_axes([left / W, 1 - bottom / H, (right - left) / W, (bottom - top) / H])


def dots(ax, flat, level, col=0, row=0):
    p = np.array(flat, dtype=float).reshape(-1, 2)
    ax.scatter(col + p[:, 0], row + p[:, 1], s=MS, color=shade(level), linewidths=0, zorder=3)


def rings(ax, table, row, power=2.5):
    # rounded outline for each contour, the clouds are flatter than an ellipse
    t = np.linspace(0, 2 * np.pi, 120)
    for lev, cx, wx, wy in zip(*table):
        xs = cx + wx * np.sign(np.cos(t)) * np.abs(np.cos(t)) ** (2 / power)
        ys = row + wy * np.sign(np.sin(t)) * np.abs(np.sin(t)) ** (2 / power)
        ax.add_patch(Polygon(np.column_stack([xs, ys]), facecolor=shade(lev), edgecolor="none", zorder=4))


def labels(ax, names, px, py, tx, ty):
    for n, a, b, c, d in zip(names, px, py, tx, ty):
        ax.annotate(n, (a, b), (c, d), fontsize=12.6, ha="center", va="center", zorder=7,
                    arrowprops=dict(arrowstyle="-", color="#b5b5b5", lw=1.5, shrinkA=0, shrinkB=0))
    ax.scatter(px, py, s=MS, color=shade(.03), linewidths=0, zorder=8)


def style(ax, xlim, ylim, names, xmajor, xminor, pad_y):
    ax.set_xlim(*xlim)
    ax.set_ylim(*ylim)
    for s in ax.spines.values():
        s.set_visible(False)
    ax.set_yticks(range(1, 7))
    ax.set_yticklabels(names)
    ax.set_yticks(np.arange(.5, 7, 1), minor=True)
    ax.set_xticks(xmajor)
    ax.set_xticks(xminor, minor=True)
    ax.grid(True, which="major", color=GRID, lw=1.7, zorder=0)
    ax.grid(True, which="minor", color=GRID, lw=1.1, zorder=0)
    ax.tick_params(which="both", length=0)
    ax.tick_params(axis="y", which="major", labelsize=18.7, pad=pad_y)
    ax.tick_params(axis="x", which="major", labelsize=18.7)
    ax.set_axisbelow(True)


XLIM = (-.41, 8.84)
POP_MINOR = [.5, 3.5, 6.5]

top = box(241, 0, 936.5, 812)
style(top, XLIM, (.247, 6.74), AES, POP_TICKS, POP_MINOR, 6.5)
top.set_xticklabels(POP_LABELS)
top.tick_params(axis="x", pad=6.5)
dots(top, ext_dark, .03, row=6)
dots(top, near_dark, .04, row=5)
dots(top, near_mid, .15, row=5)
dots(top, near_core, .27, row=5)
dots(top, near_extra, .3, row=5)
dots(top, mori_dark, .03, row=4)
dots(top, mori_mid, .14, row=4)
dots(top, mori_core, .26, row=4)
dots(top, mori_extra, .31, row=4)
dots(top, shift_dark, .02, row=3)
dots(top, shift_blue, .17, row=3)
dots(top, shift_teal, .38, row=3)
dots(top, shift_green, .72, row=3)
rings(top, shift_rings, 3)
dots(top, thr_dark, .03, row=2)
dots(top, thr_blue, .16, row=2)
dots(top, thr_teal, .38, row=2)
dots(top, thr_green, .62, row=2)
rings(top, thr_rings, 2)
dots(top, aes_ne_dark, .04, row=1)
dots(top, aes_ne_blue, .22, row=1)
dots(top, aes_ne_teal, .42, row=1)
dots(top, aes_ne_green, .72, row=1)
rings(top, aes_ne_rings, 1)
labels(top, top_labels, top_px, top_py, top_tx, top_ty)

low = box(241, 903, 936.5, 1715)
style(low, XLIM, (.247, 6.55), EGIDS, POP_TICKS, POP_MINOR, 6.5)
low.set_xticklabels(POP_LABELS)
low.tick_params(axis="x", pad=6.5)
dots(low, b8_dark, .04, row=5)
dots(low, b8_mid, .13, row=5)
dots(low, b8_core, .19, row=5)
dots(low, b8_extra, .22, row=5)
dots(low, a8_dark, .07, row=4)
dots(low, a8_core, .15, row=4)
dots(low, r7_dark, .05, row=3)
dots(low, r7_core, .22, row=3)
dots(low, r7_extra, .25, row=3)
dots(low, b6_dark, .03, row=2)
dots(low, b6_blue, .15, row=2)
dots(low, b6_teal, .33, row=2)
rings(low, b6_rings, 2)
dots(low, eg_ne_dark, .02, row=1)
dots(low, eg_ne_blue, .16, row=1)
dots(low, eg_ne_teal, .33, row=1)
dots(low, eg_ne_green, .7, row=1)
rings(low, eg_ne_rings, 1)
labels(low, low_labels, low_px, low_py, low_tx, low_ty)

cells = box(1184, 903, 1874, 1715)
style(cells, (.28, 6.74), (.247, 6.55), EGIDS, range(1, 7), np.arange(.5, 7, 1), 8)
cells.set_xticklabels(AES, rotation=-25, ha="center", va="center", rotation_mode="anchor")
cells.tick_params(axis="x", pad=47)
for flat, lev, c, r in [(c2r5, .05, 2, 5), (c3r5, .07, 3, 5), (c4r5, .12, 4, 5), (c5r5, .15, 5, 5), (c6r5, .07, 6, 5),
                        (c1r4, .02, 1, 4), (c2r4, .05, 2, 4), (c3r4, .13, 3, 4), (c4r4, .11, 4, 4), (c5r4, .1, 5, 4),
                        (c1r3, .03, 1, 3), (c2r3, .08, 2, 3), (c3r3, .17, 3, 3), (c4r3, .11, 4, 3), (c5r3, .07, 5, 3),
                        (c1r2, .06, 1, 2), (c2r2, .25, 2, 2), (c3r2, .27, 3, 2), (c4r2, .09, 4, 2),
                        (c1r1, .55, 1, 1), (c1r1_dark, .22, 1, 1), (c2r1, .32, 2, 1), (c3r1, .34, 3, 1), (c6r6, .02, 6, 6)]:
    dots(cells, flat, lev, col=c, row=r)
rings(cells, c3r3_rings, 3, 2.2)
rings(cells, c2r2_rings, 2, 2.2)
rings(cells, c3r2_rings, 2, 2.2)
rings(cells, c1r1_rings, 1, 2.2)
rings(cells, c2r1_rings, 1, 2.2)
rings(cells, c3r1_rings, 1, 2.2)
labels(cells, cell_labels, cell_px, cell_py, cell_tx, cell_ty)

fig.text(587.6 / W, 1 - 1871 / H, "L1 Speaker Population (note: log\u2212scaled axis)", fontsize=28, ha="center", va="center")
fig.text(1527.7 / W, 1 - 1871 / H, "AES Endangerment Scale", fontsize=28, ha="center", va="center")
fig.text(27 / W, 1 - 406 / H, "AES Endangerment Scale", fontsize=28, ha="center", va="center", rotation=90)
fig.text(27 / W, 1 - 1310 / H, "EGIDS Endangerment Scale (reduced)", fontsize=28, ha="center", va="center", rotation=90)

fig.savefig("out.png", dpi=100)
